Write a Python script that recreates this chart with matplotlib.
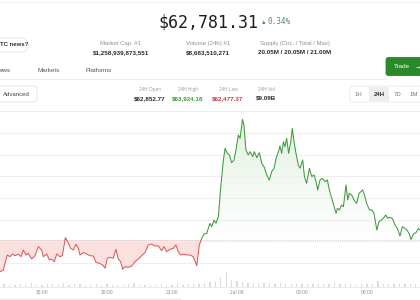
import matplotlib
matplotlib.use("Agg")
import matplotlib.pyplot as plt
import matplotlib.transforms as mtransforms
from matplotlib.patches import FancyBboxPatch, Rectangle
from matplotlib.colors import LinearSegmentedColormap
from matplotlib.path import Path
import numpy as np

# --- data (hours since Jul 07 00:00, USD) ---
OPEN_24H = 62852.77
price_now = "$62,781.31"
change_pct = "0.34%"

hours = [13.06, 13.22, 13.29, 13.40, 13.52, 13.65, 13.75, 13.91, 14.03, 14.14,
         14.26, 14.37, 14.52, 14.68, 14.83, 14.98, 15.06, 15.22, 15.34, 15.45,
         15.57, 15.68, 15.83, 15.94, 16.08, 16.22, 16.32, 16.45, 16.57, 16.68,
         16.75, 16.91, 17.06, 17.22, 17.37, 17.49, 17.65, 17.80, 17.91, 18.01,
         18.14, 18.29, 18.41, 18.52, 18.63, 18.72, 18.83, 18.98, 19.14, 19.29,
         19.45, 19.60, 19.75, 19.91, 20.06, 20.21, 20.37, 20.52, 20.63, 20.75,
         20.91, 21.06, 21.18, 21.29, 21.40, 21.52, 21.68, 21.83, 21.98, 22.14,
         22.26, 22.37, 22.48, 22.60, 22.75,
         22.83, 22.94, 23.03, 23.14, 23.25, 23.37, 23.45, 23.55, 23.65, 23.75,
         23.86, 23.95, 24.06, 24.14, 24.25, 24.32, 24.41, 24.52, 24.60, 24.72,
         24.80, 24.91, 25.03, 25.14, 25.26, 25.37, 25.49, 25.60, 25.71, 25.80,
         25.91, 25.98, 26.06, 26.14, 26.21, 26.29, 26.38, 26.48, 26.55, 26.63,
         26.72, 26.83, 26.91, 27.03, 27.11, 27.21, 27.34, 27.45, 27.55, 27.65,
         27.72, 27.83, 27.94, 28.06, 28.17, 28.26, 28.37, 28.48, 28.57, 28.63,
         28.72, 28.83, 28.91, 29.03, 29.11, 29.18, 29.29, 29.40, 29.52, 29.63,
         29.72, 29.80, 29.88, 29.98, 30.11, 30.22, 30.32, 30.45, 30.55, 30.65,
         30.75, 30.86, 30.95, 31.06, 31.18, 31.29, 31.40, 31.52, 31.63, 31.75,
         31.86, 31.95, 32.03, 32.14, 32.26, 32.37, 32.45]

prices = [62561, 62576, 62638, 62715, 62699, 62724, 62708, 62721, 62699, 62761,
          62715, 62730, 62678, 62708, 62791, 62761, 62699, 62724, 62669, 62675,
          62653, 62724, 62699, 62708, 62874, 62822, 62776, 62761, 62813, 62776,
          62715, 62736, 62724, 62708, 62705, 62647, 62638, 62623, 62592, 62684,
          62693, 62684, 62767, 62678, 62653, 62583, 62607, 62601, 62613, 62653,
          62678, 62708, 62736, 62807, 62816, 62798, 62798, 62755, 62791, 62745,
          62767, 62776, 62807, 62745, 62715, 62721, 62715, 62715, 62699, 62616,
          62807, 62868, 62908, 62914, 63006,
          62976, 63037, 63007, 63068, 63345, 63590, 63698, 63652, 63636, 63566,
          63590, 63683, 63821, 63790, 63965, 63913, 63683, 63636, 63667, 63621,
          63667, 63612, 63658, 63560, 63523, 63452, 63406, 63483, 63514, 63606,
          63667, 63719, 63652, 63759, 63713, 63790, 63652, 63759, 63882, 63759,
          63652, 63544, 63514, 63590, 63437, 63375, 63514, 63437, 63452, 63391,
          63314, 63406, 63421, 63391, 63406, 63314, 63237, 63160, 63099, 63145,
          63130, 63176, 63160, 63360, 63222, 63283, 63268, 63222, 63191, 63283,
          63299, 63314, 63268, 63191, 63130, 63130, 63099, 62945, 63022, 63037,
          63053, 63083, 63053, 63062, 63047, 62991, 62960, 62890, 62976, 62960,
          62939, 62908, 62858, 62908, 62921, 62960, 62945]

vol_hours = [13.0 + 0.25 * i for i in range(79)]
volumes = [400, 150, 100, 100, 150, 100, 200, 100, 100, 110,
           140, 100, 160, 100, 110, 130, 100, 100, 150, 100,
           110, 100, 90, 100, 110, 190, 100, 90, 100, 100,
           110, 100, 100, 160, 100, 110, 120, 150, 160, 210,
           300, 500, 720, 350, 260, 210, 200, 170, 200, 160,
           190, 150, 160, 150, 140, 130, 120, 140, 120, 110,
           120, 110, 210, 120, 110, 110, 100, 110, 120, 110,
           260, 150, 120, 110, 140, 110, 120, 110, 100]

tick_hours = [15, 18, 21, 24, 27, 30]
tick_labels = ["15:00", "18:00", "21:00", "Jul 08", "03:00", "06:00"]

stats = [("Market Cap. #1", "$1,258,939,873,551", 121),
         ("Volume (24h) #1", "$8,683,510,271", 208),
         ("Supply (Circ. / Total / Max)", "20.05M / 20.05M / 21.00M", 295)]
day_stats = [("24H Open", "$62,852.77", "#2b2b2b", 150),
             ("24H High", "$63,924.18", "#3c9a3c", 188),
             ("24H Low", "$62,477.37", "#cc3b3b", 228),
             ("24H Vol", "$9.09B", "#2b2b2b", 266.5)]

W, H = 420, 300
UI = "Liberation Sans"


def fy(py):
    return 1 - py / H


fig = plt.figure(figsize=(4.2, 3), dpi=100)
fig.patch.set_facecolor("white")

# background layer in pixel coordinates for the page chrome
bg = fig.add_axes([0, 0, 1, 1])
bg.set_xlim(0, W)
bg.set_ylim(H, 0)
bg.axis("off")


def txt(x, y, s, size, color="#222", weight="normal", ha="center", family=UI):
    bg.text(x, y, s, fontsize=size, color=color, fontweight=weight,
            ha=ha, va="center", family=family)


def box(x, y, w, h, face="white", edge="#e4e4e4", r=2.5):
    bg.add_patch(FancyBboxPatch((x, y), w, h, boxstyle=f"round,pad=0,rounding_size={r}",
                                facecolor=face, edgecolor=edge, lw=0.6))


bg.plot([0, W], [1.5, 1.5], color="#f1f1f1", lw=0.8)

# header price
txt(208.5, 22, price_now, 12, color="#1e1e1e", family="DejaVu Sans Mono")
txt(264, 22.5, "\u25b4", 5, color="#3c9a5a", family="DejaVu Sans")
txt(267.5, 22, change_pct, 5.6, color="#5a8a6a", ha="left", family="DejaVu Sans Mono")

box(-10, 38, 38, 14, r=7)
txt(0, 45, "TC news?", 4.3, color="#333", weight="bold", ha="left")

for label, value, cx in stats:
    txt(cx, 43, label, 4.3, color="#8a8f99")
    txt(cx, 52.5, value, 4.5, color="#2b2b2b", weight="bold")

# tabs
txt(0, 70, "ews", 4.5, color="#555", ha="left")
txt(48.5, 70, "Markets", 4.5, color="#555")
txt(98.5, 70, "Platforms", 4.5, color="#555")
bg.plot([0, 386], [78.5, 78.5], color="#ececec", lw=0.7)

box(386, 57.5, 40, 18, face="#2a8a2a", edge="#2a8a2a", r=2.5)
txt(402, 66.5, "Trade", 4.5, color="white")
txt(418, 66.5, "\u2192", 4.5, color="white", family="DejaVu Sans")

# second row
box(-3, 86, 40, 16)
txt(16.5, 94, "Advanced", 4.3, color="#444")
for label, value, col, cx in day_stats:
    txt(cx, 89.3, label, 3.4, color="#9a9ea6")
    txt(cx, 98.3, value, 4.5, color=col, weight="bold")

box(350, 86, 80, 16, edge="#e8e8e8")
bg.add_patch(Rectangle((369, 86.6), 20, 14.8, facecolor="#eeeeee", edgecolor="none"))
txt(358, 94, "1H", 4.3, color="#777")
txt(379, 94, "24H", 4.3, color="#333", weight="bold")
txt(397.5, 94, "7D", 4.3, color="#777")
txt(414, 94, "1M", 4.3, color="#777")

bg.plot([0, W], [286.5, 286.5], color="#e6e6e6", lw=0.6)
bg.plot([0, 180], [299, 299], color="#e8e8e8", lw=0.8)

# --- price chart ---
t = np.array(hours)
p = np.array(prices, dtype=float)
x0, x1 = 13.062, 32.443

ax = fig.add_axes([0, fy(287), 1, (287 - 110) / H])
ax.set_xlim(x0, x1)
ax.set_ylim(62419.6, 64050.9)
ax.patch.set_alpha(0)
for s in ax.spines.values():
    s.set_visible(False)
ax.set_xticks([])
ax.set_yticks(np.arange(62640, 64100, 200))
ax.tick_params(length=0, labelleft=False)
ax.grid(axis="y", color="#efefef", lw=0.8)

ax.fill_between(t, p, OPEN_24H, where=p < OPEN_24H, interpolate=True,
                color="#fbe0e0", lw=0, zorder=1)
poly = ax.fill_between(t, p, OPEN_24H, where=p >= OPEN_24H, interpolate=True,
                       facecolor="none", lw=0)
clip = Path.make_compound_path(*poly.get_paths())
cmap = LinearSegmentedColormap.from_list("g", ["#ffffff", "#e3f1e3"])
img = ax.imshow(np.linspace(0, 1, 256).reshape(-1, 1), extent=[x0, x1, OPEN_24H, p.max()],
                origin="lower", aspect="auto", cmap=cmap, zorder=1)
img.set_clip_path(clip, transform=ax.transData)

ax.axhline(OPEN_24H, color="#c9c9c9", lw=0.6, ls=(0, (1, 1.5)), zorder=2)

up, = ax.plot(t, p, color="#3f9a3f", lw=0.75, zorder=3)
dn, = ax.plot(t, p, color="#dd5a5a", lw=0.75, zorder=3)
up.set_clip_path(Rectangle((x0 - 1, OPEN_24H), 30, 5000, transform=ax.transData))
dn.set_clip_path(Rectangle((x0 - 1, OPEN_24H - 5000), 30, 5000, transform=ax.transData))
ax.set_xlim(x0, x1)
ax.set_ylim(62419.6, 64050.9)

# --- volume bars ---
axv = fig.add_axes([0, fy(286.5), 1, 18 / H])
axv.set_xlim(x0, x1)
axv.set_ylim(0, 900)
axv.axis("off")
axv.bar(vol_hours, volumes, width=0.06, color="#dcdcdc", lw=0)

trans = mtransforms.blended_transform_factory(ax.transData, fig.transFigure)
for h, lab in zip(tick_hours, tick_labels):
    ax.text(h, fy(293), lab, transform=trans, fontsize=3.6, color="#8a8f99",
            ha="center", va="center", family=UI)

fig.savefig("out.png", dpi=100, facecolor="white")
